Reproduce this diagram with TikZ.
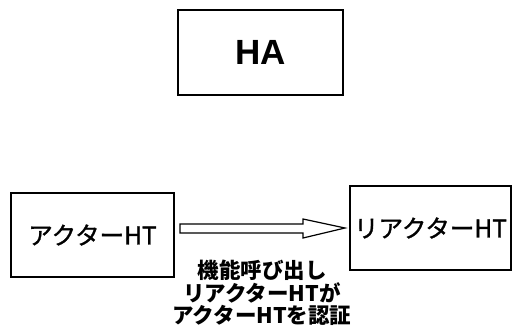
\documentclass[tikz,border=0pt]{standalone}
\usepackage{fontspec}
\setmainfont{Liberation Sans}
\newfontfamily\cjk{Noto Sans CJK JP}
\newfontfamily\cjkmid[FakeBold=1.2]{Noto Sans CJK JP}
\begin{document}
\begin{tikzpicture}[x=1pt,y=-1pt,
  box/.style={draw,line width=1.3pt,inner sep=0pt},
  lbl/.style={font=\cjkmid\fontsize{24.5}{26}\selectfont,align=center}]
\useasboundingbox (0,0) rectangle (513,327);
\node[box,minimum width=165,minimum height=85,font=\bfseries\fontsize{35}{38}\selectfont] (ha) at (260.5,52.5) {HA};
\node[box,minimum width=163,minimum height=84] (actor) at (92.5,235) {};
\node[lbl] (actortext) at (actor.center) {アクターHT};
\node[box,minimum width=161,minimum height=84] (reactor) at (430.5,228) {};
\node[lbl] (reactortext) at (reactor.center) {リアクターHT};
\draw[line width=1.2pt,line join=miter]
  (180,224) -- (303,224) -- (303,219) -- (345,228) -- (303,238) -- (303,233) -- (180,233) -- cycle;
\node[lbl,font=\cjk\bfseries\fontsize{21.5}{22.5}\selectfont] (call) at (262,293) {機能呼び出し\\リアクターHTが\\アクターHTを認証};
\end{tikzpicture}
\end{document}
